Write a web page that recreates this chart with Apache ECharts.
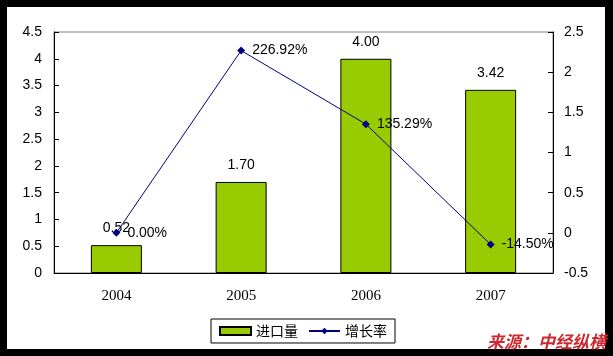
<!DOCTYPE html>
<html><head><meta charset="utf-8">
<script src="https://cdn.jsdelivr.net/npm/echarts@6/dist/echarts.min.js"></script>
<style>html,body{margin:0;padding:0;background:#000;}#c{width:613px;height:356px;}</style>
</head><body><div id="c"></div>
<script>
const categories = ['2004', '2005', '2006', '2007'];
const importVolume = [0.52, 1.70, 4.00, 3.42];
const growthRate = [0.0, 2.2692, 1.3529, -0.145];
const leftTicks = { min: 0, max: 4.5, interval: 0.5 };
const rightTicks = { min: -0.5, max: 2.5, interval: 0.5 };

const chart = echarts.init(document.getElementById('c'));
const axisFont = { color: '#000', fontFamily: 'Arial, Liberation Sans', fontSize: 14 };
chart.setOption({
  backgroundColor: '#000',
  animation: false,
  graphic: [
    { type: 'rect', z: -10, shape: { x: 7, y: 7, width: 598, height: 342 }, style: { fill: '#fff' } },
    { type: 'text', left: 487, top: 333, z: 10,
      style: { text: '来源：中经纵横', fill: '#CC2A30', font: 'italic bold 17px "Noto Sans CJK SC"' } }
  ],
  grid: { left: 54, right: 60, top: 32, bottom: 83, show: true, borderColor: '#808080', borderWidth: 1 },
  legend: {
    left: 211, top: 319, padding: [5, 8], itemGap: 10, itemWidth: 31, itemHeight: 8,
    borderColor: '#000', borderWidth: 1, backgroundColor: '#fff',
    textStyle: { color: '#000', fontSize: 14, fontFamily: '"Noto Sans CJK SC"' },
    data: [{ name: '进口量', icon: 'rect' }, { name: '增长率' }]
  },
  xAxis: {
    type: 'category', data: categories,
    axisLine: { lineStyle: { color: '#000', width: 1 } },
    axisTick: { inside: true, length: 5, lineStyle: { color: '#000' } },
    axisLabel: { color: '#000', fontFamily: '"Liberation Serif", serif', fontSize: 15, margin: 16 }
  },
  yAxis: [
    { type: 'value', min: leftTicks.min, max: leftTicks.max, interval: leftTicks.interval,
      splitLine: { show: false },
      axisLine: { show: true, lineStyle: { color: '#000' } },
      axisTick: { show: true, inside: true, length: 5, lineStyle: { color: '#000' } },
      axisLabel: Object.assign({ margin: 12 }, axisFont) },
    { type: 'value', min: rightTicks.min, max: rightTicks.max, interval: rightTicks.interval,
      splitLine: { show: false },
      axisLine: { show: true, lineStyle: { color: '#000' } },
      axisTick: { show: true, inside: true, length: 5, lineStyle: { color: '#000' } },
      axisLabel: Object.assign({ margin: 11 }, axisFont) }
  ],
  series: [
    { name: '进口量', type: 'bar', data: importVolume, barWidth: 51, yAxisIndex: 0,
      itemStyle: { color: '#99CC00', borderColor: '#000', borderWidth: 1 },
      label: { show: true, position: 'top', distance: 10, color: '#000', fontSize: 14,
        fontFamily: 'Arial, Liberation Sans', formatter: p => p.value.toFixed(2) } },
    { name: '增长率', type: 'line', data: growthRate, yAxisIndex: 1,
      symbol: 'diamond', symbolSize: 8,
      lineStyle: { color: '#000080', width: 1 },
      itemStyle: { color: '#000080' },
      label: { show: true, position: 'right', distance: 7, color: '#000', fontSize: 14,
        fontFamily: 'Arial, Liberation Sans', formatter: p => (p.value * 100).toFixed(2) + '%' } }
  ]
});
</script></body></html>
